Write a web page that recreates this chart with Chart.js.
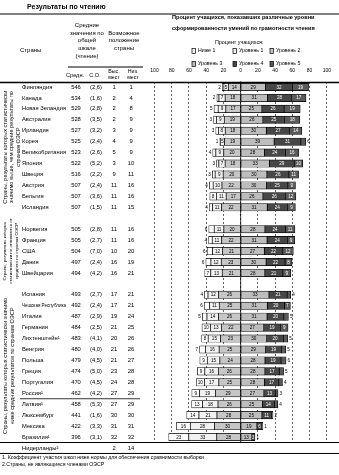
<!DOCTYPE html>
<html lang="ru">
<head>
<meta charset="utf-8">
<title>Результаты по чтению</title>
<script src="https://cdn.jsdelivr.net/npm/chart.js@4.4.1/dist/chart.umd.min.js"></script>
<style>
  html, body { margin: 0; padding: 0; background: #fff; }
  #reading { display: block; }
</style>
</head>
<body>
<canvas id="reading" width="339" height="475"></canvas>
<script>
'use strict';

// ******* DATA *********
let countries = ['Финляндия', 'Канада', 'Новая Зеландия', 'Австралия', 'Ирландия', 'Корея',
  'Великобритания', 'Япония', 'Швеция', 'Австрия', 'Бельгия', 'Исландия',
  'Норвегия', 'Франция', 'США', 'Дания', 'Швейцария',
  'Испания', 'Чешская Республика', 'Италия', 'Германия', 'Лихтенштейн¹', 'Венгрия', 'Польша',
  'Греция', 'Португалия', 'Россия¹', 'Латвия¹', 'Люксембург', 'Мексика', 'Бразилия¹'];
let meanScore = [546, 534, 529, 528, 527, 525, 523, 522, 516, 507, 507, 507,
  505, 505, 504, 497, 494,
  493, 492, 487, 484, 483, 480, 479, 474, 470, 462, 458, 441, 422, 396];
let stdErr = [2.6, 1.6, 2.8, 3.5, 3.2, 2.4, 2.6, 5.2, 2.2, 2.4, 3.6, 1.5,
  2.8, 2.7, 7.0, 2.4, 4.2,
  2.7, 2.4, 2.9, 2.5, 4.1, 4.0, 4.5, 5.0, 4.5, 4.2, 5.3, 1.6, 3.3, 3.1];
let rankHigh = [1, 2, 2, 2, 3, 4, 5, 3, 9, 11, 11, 11,
  11, 11, 10, 16, 16,
  17, 17, 19, 21, 20, 21, 21, 23, 24, 27, 27, 30, 31, 32];
let rankLow = [1, 4, 8, 9, 9, 9, 9, 10, 11, 16, 16, 15,
  16, 16, 20, 19, 21,
  21, 21, 24, 25, 26, 26, 27, 28, 28, 29, 29, 30, 31, 32];

// percent of students at each level
let belowL1 = [1.7, 2.4, 4.8, 3.3, 3.1, 0.9, 3.6, 2.7, 3.3, 4.4, 7.7, 4.0,
  6.3, 4.2, 6.4, 5.9, 7.0,
  4.1, 6.1, 5.4, 9.9, 7.6, 6.9, 8.7, 8.7, 9.6, 9.0, 12.7, 14.2, 16.1, 23.3];
let level1 = [5.2, 7.2, 8.9, 9.1, 7.9, 4.8, 9.2, 7.3, 9.3, 10.2, 11.3, 10.5,
  11.2, 11.0, 11.5, 12.0, 13.3,
  12.2, 11.4, 13.5, 12.7, 14.5, 15.8, 14.6, 15.7, 16.7, 18.5, 17.9, 20.9, 28.1, 32.5];
let level2 = [14.3, 18.0, 17.2, 19.0, 17.9, 18.6, 19.6, 18.0, 20.3, 21.7, 16.8, 22.0,
  19.5, 22.0, 21.0, 22.5, 21.4,
  25.7, 24.8, 25.6, 22.3, 23.2, 25.0, 24.1, 25.9, 25.3, 29.2, 26.3, 27.5, 30.3, 27.7];
let level3 = [28.7, 31.0, 24.6, 25.7, 29.7, 38.8, 27.5, 33.3, 30.4, 29.9, 25.8, 30.8,
  28.1, 30.6, 27.4, 29.5, 28.0,
  32.8, 30.9, 30.6, 26.8, 30.1, 28.8, 28.2, 28.1, 27.5, 26.9, 25.2, 24.6, 18.8, 12.9];
let level4 = [31.6, 28.0, 25.8, 25.3, 27.1, 31.1, 24.4, 28.8, 25.6, 24.9, 26.3, 23.6,
  23.7, 23.7, 21.5, 22.0, 21.0,
  21.1, 19.8, 19.5, 19.4, 19.5, 18.5, 18.6, 16.7, 16.8, 13.3, 13.8, 11.2, 6.0, 3.1];
let level5 = [18.5, 16.8, 18.7, 17.6, 14.2, 5.7, 15.6, 9.9, 11.2, 8.8, 12.0, 9.1,
  11.2, 8.5, 12.2, 8.1, 9.2,
  4.2, 7.0, 5.3, 8.8, 5.1, 5.1, 5.9, 5.0, 4.2, 3.2, 4.1, 1.7, 0.9, 0.6];

// country shown in the table only
let extraCountry = 'Нидерланды²';
let extraRankHigh = 2;
let extraRankLow = 14;

let groupSizes = [12, 5, 14];
let groupTitles = [
  ['Страны, результаты которых статистически', 'значимо выше, чем средние результаты по', 'странам ОЭСР'],
  ['Страны, результаты которых', 'статистически не отличаются от', 'среднего по странам ОЭСР'],
  ['Страны, результаты которых статистически значимо', 'ниже средних результатов по странам ОЭСР']
];

let levelNames = ['Ниже 1', 'Уровень 1', 'Уровень 2', 'Уровень 3', 'Уровень 4', 'Уровень 5'];
let xTicks = [-100, -80, -60, -40, -20, 0, 20, 40, 60, 80, 100];

let footnotes = [
  '1. Коэффициент участия школ ниже нормы для обеспечения сравнимости выборки',
  '2.Страны, не являющиеся членами ОЭСР'
];

// ******* STYLE *********
const chartFont = '"Liberation Sans", Arial, sans-serif';
const levelColors = ['#ffffff', '#f1f1f1', '#c6c6c6', '#bdbdbd', '#474747', '#5a5a5a'];
const levelText = ['#000', '#000', '#000', '#000', '#fff', '#fff'];

// ******* SLOTS ON THE CATEGORY AXIS (empty slot between groups) *********
let slotLabels = [];
let rowSlot = [];
let groupSlots = [];
let c = 0;
for (let g = 0; g < groupSizes.length; g++) {
  if (g > 0) slotLabels.push('');
  let first = slotLabels.length;
  for (let i = 0; i < groupSizes[g]; i++) {
    rowSlot.push(slotLabels.length);
    slotLabels.push(countries[c]);
    c++;
  }
  groupSlots.push([first, slotLabels.length - 1]);
}

function bySlot(values, sign) {
  let out = slotLabels.map(() => null);
  for (let i = 0; i < values.length; i++) out[rowSlot[i]] = sign * values[i];
  return out;
}

// left side stacks outward from zero: level 2, level 1, below level 1
let levelValues = [belowL1, level1, level2, level3, level4, level5];
let stackOrder = [2, 1, 0, 3, 4, 5];
let datasets = stackOrder.map(function (lv) {
  return {
    label: levelNames[lv],
    level: lv,
    data: bySlot(levelValues[lv], lv < 3 ? -1 : 1),
    backgroundColor: levelColors[lv],
    borderColor: '#000',
    borderWidth: 0.7,
    borderSkipped: false,
    barThickness: 7.4,
    stack: 'pct'
  };
});

// ****** HELPERS ******
function putText(ctx, str, x, y, size, align, weight, maxW) {
  ctx.font = (weight || 'normal') + ' ' + size + 'px ' + chartFont;
  ctx.textAlign = align || 'left';
  ctx.textBaseline = 'middle';
  ctx.fillStyle = '#000';
  if (maxW) ctx.fillText(str, x, y, maxW);
  else ctx.fillText(str, x, y);
}

function hLine(ctx, x1, x2, y, w) {
  ctx.beginPath();
  ctx.lineWidth = w;
  ctx.strokeStyle = '#000';
  ctx.setLineDash([]);
  ctx.moveTo(x1, y);
  ctx.lineTo(x2, y);
  ctx.stroke();
}

// ****** PLUGINS ******
let zeroLine = {
  id: 'zeroLine',
  beforeDatasetsDraw(chart) {
    let ctx = chart.ctx;
    let x0 = chart.scales.x.getPixelForValue(0);
    ctx.save();
    ctx.beginPath();
    ctx.lineWidth = 0.8;
    ctx.strokeStyle = '#000';
    ctx.moveTo(x0, chart.chartArea.top);
    ctx.lineTo(x0, chart.chartArea.bottom);
    ctx.stroke();
    ctx.restore();
  }
};

let segmentLabels = {
  id: 'segmentLabels',
  afterDatasetsDraw(chart) {
    let ctx = chart.ctx;
    ctx.save();
    ctx.font = '4.6px ' + chartFont;
    ctx.textBaseline = 'middle';
    chart.data.datasets.forEach(function (ds, di) {
      let meta = chart.getDatasetMeta(di);
      meta.data.forEach(function (bar, i) {
        let v = ds.data[i];
        if (v === null) return;
        let p = bar.getProps(['x', 'y', 'base'], true);
        let w = Math.abs(p.x - p.base);
        let left = Math.min(p.x, p.base);
        let label = String(Math.round(Math.abs(v)));
        if (w >= 6 || (ds.level > 0 && ds.level < 5)) {
          ctx.textAlign = 'center';
          ctx.fillStyle = levelText[ds.level];
          ctx.fillText(label, left + w / 2, p.y + 0.3);
        } else if (ds.level === 0) {
          ctx.textAlign = 'right';
          ctx.fillStyle = '#000';
          ctx.fillText(label, left - 1.5, p.y + 0.3);
        } else {
          ctx.textAlign = 'left';
          ctx.fillStyle = '#000';
          ctx.fillText(label, left + w + 1.5, p.y + 0.3);
        }
      });
    });
    ctx.restore();
  }
};

let tableParts = {
  id: 'tableParts',
  afterDraw(chart) {
    let ctx = chart.ctx;
    let y = chart.scales.y;
    let area = chart.chartArea;
    let W = chart.width;
    let rowH = y.getPixelForValue(1) - y.getPixelForValue(0);
    ctx.save();

    // titles
    putText(ctx, 'Результаты по чтению', 27, 7, 7, 'left', 'bold');
    hLine(ctx, 0, W, 14, 1);
    putText(ctx, 'Процент учащихся, показавших различные уровни', 172, 17.5, 5.6, 'left', 'bold');
    putText(ctx, 'сформированности умений по грамотности чтения', 172, 28.5, 5.6, 'left', 'bold');

    // column headers
    putText(ctx, 'Страны', 20, 50, 6, 'left');
    ['Средние', 'значения по', 'общей', 'шкале', '(чтение)'].forEach(function (s, i) {
      putText(ctx, s, 87, 25.5 + i * 7.6, 6, 'center');
    });
    ['Возможное', 'положение', 'страны'].forEach(function (s, i) {
      putText(ctx, s, 124, 33 + i * 7.6, 6, 'center');
    });
    hLine(ctx, 68, 143, 67, 1);
    putText(ctx, 'Средн.', 75, 75, 5.6, 'center');
    putText(ctx, 'С.О.', 95, 75, 5.6, 'center');
    putText(ctx, 'Выс.', 114, 71.5, 5.3, 'center');
    putText(ctx, 'мест', 114, 78, 5.3, 'center');
    putText(ctx, 'Низ.', 133, 71.5, 5.3, 'center');
    putText(ctx, 'мест', 133, 78, 5.3, 'center');
    hLine(ctx, 0, W, area.top + 1, 1.5);

    // table rows
    for (let i = 0; i < countries.length; i++) {
      let ry = y.getPixelForValue(rowSlot[i]);
      putText(ctx, countries[i], 22, ry, 5.8, 'left', 'normal', 44);
      putText(ctx, String(meanScore[i]), 76, ry, 5.8, 'center');
      putText(ctx, '(' + stdErr[i].toFixed(1).replace('.', ',') + ')', 96, ry, 5.8, 'center');
      putText(ctx, String(rankHigh[i]), 114, ry, 5.8, 'center');
      putText(ctx, String(rankLow[i]), 131, ry, 5.8, 'center');
    }
    let russia = countries.indexOf('Россия¹');
    hLine(ctx, 20, 140, y.getPixelForValue(rowSlot[russia]) + rowH / 2, 0.8);

    let lastY = y.getPixelForValue(rowSlot[rowSlot.length - 1]) + rowH / 2;
    hLine(ctx, 0, W, lastY, 1);
    let extraY = lastY + rowH / 2;
    putText(ctx, extraCountry, 22, extraY, 5.8, 'left');
    putText(ctx, String(extraRankHigh), 114, extraY, 5.8, 'center');
    putText(ctx, String(extraRankLow), 131, extraY, 5.8, 'center');
    hLine(ctx, 0, W, lastY + rowH, 1);

    footnotes.forEach(function (s, i) {
      putText(ctx, s, 2, lastY + rowH + 4.5 + i * 7, 5.2, 'left');
    });

    // rotated group captions
    let capX = [[5, 11.5, 18], [4.5, 10.5, 16.5], [5, 12]];
    let capSize = [5.6, 4.4, 5.6];
    groupSlots.forEach(function (gs, g) {
      let cy = (y.getPixelForValue(gs[0]) + y.getPixelForValue(gs[1])) / 2;
      groupTitles[g].forEach(function (s, k) {
        ctx.save();
        ctx.translate(capX[g][k], cy);
        ctx.rotate(-Math.PI / 2);
        putText(ctx, s, 0, 0, capSize[g], 'center');
        ctx.restore();
      });
    });

    // legend
    putText(ctx, 'Процент учащихся:', 215, 43, 5.4, 'left');
    let legX = [192, 233, 270];
    let legY = [51, 64];
    levelNames.forEach(function (name, i) {
      let lx = legX[i % 3];
      let ly = legY[Math.floor(i / 3)];
      ctx.fillStyle = levelColors[i];
      ctx.fillRect(lx, ly - 2.5, 3.5, 5);
      ctx.lineWidth = 0.7;
      ctx.strokeStyle = '#000';
      ctx.strokeRect(lx, ly - 2.5, 3.5, 5);
      putText(ctx, name, lx + 6, ly, 5.2, 'left');
    });

    ctx.restore();
  }
};

// ****** CHART ******
let ctx = document.getElementById('reading');

let chartObj = {
  type: 'bar',
  data: {
    labels: slotLabels,
    datasets: datasets
  },
  options: {
    responsive: false,
    animation: false,
    devicePixelRatio: 1,
    indexAxis: 'y',
    layout: {
      padding: { left: 154.5, right: 7.5, top: 59.5, bottom: 32.5 }
    },
    plugins: {
      legend: { display: false },
      tooltip: { enabled: false }
    },
    scales: {
      x: {
        stacked: true,
        position: 'top',
        min: -100,
        max: 100,
        afterBuildTicks: function (axis) {
          axis.ticks = xTicks.map(v => ({ value: v }));
        },
        ticks: {
          callback: v => Math.abs(v),
          color: '#000',
          font: { size: 5, family: chartFont },
          padding: 8,
          maxRotation: 0,
          autoSkip: false
        },
        grid: { color: '#000', lineWidth: 0.6, drawTicks: false },
        border: { display: false, dash: [2, 2] }
      },
      y: {
        stacked: true,
        display: false
      }
    }
  },
  plugins: [zeroLine, segmentLabels, tableParts]
};

new Chart(ctx, chartObj); //eslint-disable-line
</script>
</body>
</html>
